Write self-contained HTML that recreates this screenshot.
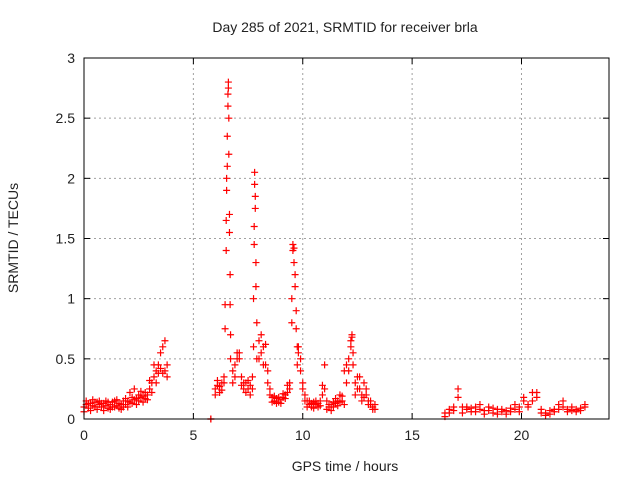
<!DOCTYPE html>
<html><head><meta charset="utf-8"><style>
body{margin:0;background:#fff;width:640px;height:480px;overflow:hidden}
svg text{font-family:"Liberation Sans",sans-serif;font-size:14px;fill:#222}
</style></head><body>
<svg id="chart" width="640" height="480">
<text x="345" y="32" text-anchor="middle">Day 285 of 2021, SRMTID for receiver brla</text>
<text x="345" y="471" text-anchor="middle">GPS time / hours</text>
<text x="0" y="0" transform="translate(18,238) rotate(-90)" text-anchor="middle">SRMTID / TECUs</text>
<g id="grid"></g>
<g id="ticks"></g>
<g id="marks"></g>
<rect x="84" y="58" width="525" height="361" fill="none" stroke="#000" stroke-width="1"/>
</svg>
<script>
const xTicks=[0,5,10,15,20];
const yTicks=[0,0.5,1,1.5,2,2.5,3];
const yTickLabels=["0","0.5","1","1.5","2","2.5","3"];
const times=[0.0,0.1,0.2,0.3,0.4,0.5,0.6,0.7,0.8,0.9,1.0,1.1,1.2,1.3,1.4,1.5,1.6,1.7,1.8,1.9,2.0,2.1,2.2,2.3,2.4,2.5,2.6,2.7,2.8,2.9,3.0,3.1,3.2,3.3,3.4,3.5,3.6,3.7,3.8,
5.8,
6.0,6.1,6.2,6.3,6.4,
6.45,6.5,6.52,6.55,6.58,6.6,6.62,6.65,6.68,6.7,
6.8,6.9,7.0,7.1,7.2,7.3,
7.4,7.5,7.6,7.7,
7.75,7.78,7.8,7.83,7.86,7.9,
8.0,8.1,8.2,8.3,8.4,8.5,
8.6,8.7,8.8,8.9,9.0,9.1,9.2,9.3,9.4,
9.5,9.55,9.6,9.65,9.7,9.75,
9.8,9.9,10.0,10.1,
10.2,10.3,10.4,10.5,10.6,10.7,10.8,10.9,11.0,
11.1,11.2,11.3,11.4,11.5,11.6,11.7,11.8,11.9,12.0,
12.1,12.2,12.25,12.3,
12.4,12.5,12.6,12.7,12.8,12.9,13.0,13.1,13.2,13.3,
16.5,16.7,16.9,17.1,17.3,17.5,17.7,17.9,18.1,18.3,18.5,18.7,18.9,19.1,19.3,19.5,19.7,19.9,20.1,20.3,20.5,20.7,20.9,21.1,21.3,21.5,21.7,21.9,22.1,22.3,22.5,22.7,22.9];
const seriesA=[.10,.12,.09,.13,.11,.10,.14,.12,.10,.13,.11,.09,.12,.14,.10,.11,.13,.12,.10,.12,.15,.14,.18,.16,.17,.20,.18,.19,.17,.20,.25,.30,.35,.40,.45,.42,.38,.40,.45,
0,
.25,.28,.22,.30,.35,
.75,1.4,1.9,2.1,2.6,2.8,2.5,1.7,1.2,.7,
.30,.45,.55,.50,.35,.30,
.30,.25,.28,.35,
1.0,1.6,2.05,1.75,1.3,.8,
.65,.55,.60,.45,.30,.20,
.18,.15,.17,.14,.16,.18,.20,.22,.30,
1.0,1.45,1.3,1.1,.9,.6,
.60,.50,.30,.20,
.15,.12,.10,.14,.12,.10,.15,.20,.25,
.15,.10,.12,.10,.13,.15,.20,.15,.12,.30,
.50,.65,.70,.55,
.30,.35,.25,.20,.30,.25,.15,.12,.10,.08,
.02,.05,.07,.25,.10,.08,.06,.10,.08,.07,.10,.05,.08,.06,.04,.06,.08,.10,.15,.12,.22,.18,.08,.05,.04,.06,.12,.15,.08,.07,.08,.09,.10];
const seriesB=[.06,.15,.13,.07,.16,.14,.08,.15,.13,.07,.15,.14,.08,.10,.15,.16,.09,.08,.15,.17,.10,.22,.13,.25,.12,.15,.23,.14,.22,.16,.32,.22,.45,.30,.38,.55,.60,.65,.35,
0,
.20,.32,.27,.24,.30,
.95,1.65,2.0,2.35,2.7,2.75,2.2,1.55,.95,.5,
.40,.35,.50,.55,.28,.25,
.22,.32,.20,.25,
.6,1.45,1.95,1.85,1.1,.5,
.50,.70,.45,.62,.40,.25,
.14,.19,.13,.18,.13,.21,.17,.28,.25,
.8,1.4,1.42,1.2,.75,.45,
.55,.40,.25,.15,
.10,.15,.13,.09,.15,.13,.11,.28,.45,
.08,.12,.07,.14,.17,.11,.14,.19,.40,.45,
.40,.60,.68,.45,
.20,.25,.35,.15,.18,.20,.12,.15,.08,.12,
.05,.08,.10,.18,.05,.10,.09,.06,.12,.04,.07,.09,.04,.08,.07,.09,.12,.06,.18,.10,.15,.22,.05,.03,.07,.08,.08,.10,.06,.10,.06,.07,.12];
const NS="http://www.w3.org/2000/svg";
const X0=84,X1=609,Y0=419,Y1=58,XMAX=24,YMAX=3;
const xs=v=>X0+(X1-X0)*v/XMAX, ys=v=>Y0-(Y0-Y1)*v/YMAX;
function mk(t,a,p){const e=document.createElementNS(NS,t);for(const k in a)e.setAttribute(k,a[k]);p.appendChild(e);return e;}
const grid=document.getElementById('grid'),ticks=document.getElementById('ticks'),marks=document.getElementById('marks');
xTicks.forEach(v=>{const x=xs(v);
 if(v>0){const g=mk('line',{x1:x,x2:x,y1:Y1,y2:Y0,stroke:'#a0a0a0','stroke-dasharray':'2,3'},grid);
 
 }
 mk('line',{x1:x,x2:x,y1:Y0,y2:Y0-6,stroke:'#000'},ticks);
 mk('line',{x1:x,x2:x,y1:Y1,y2:Y1+6,stroke:'#000'},ticks);
 const t=mk('text',{x:x,y:Y0+21,'text-anchor':'middle'},ticks);t.textContent=v;
 
 
});
yTicks.forEach((v,i)=>{const y=ys(v);
 if(v>0&&v<YMAX){const g=mk('line',{x1:X0,x2:X1,y1:y,y2:y,stroke:'#a0a0a0','stroke-dasharray':'2,3'},grid);
 
 }
 mk('line',{x1:X0,x2:X0+6,y1:y,y2:y,stroke:'#000'},ticks);
 mk('line',{x1:X1,x2:X1-6,y1:y,y2:y,stroke:'#000'},ticks);
 const t=mk('text',{x:X0-9,y:y+5,'text-anchor':'end'},ticks);t.textContent=yTickLabels[i];
 
 
});
function plus(t,v){const x=xs(t),y=ys(v);
 const p=mk('path',{d:`M${x-3.5},${y}H${x+3.5}M${x},${y-3.5}V${y+3.5}`,stroke:'#ff0000','stroke-width':1.2,fill:'none'},marks);
 
 }
const n=Math.min(times.length,seriesA.length,seriesB.length);
for(let i=0;i<n;i++){plus(times[i],seriesA[i]);plus(times[i],seriesB[i]);}
</script>
</body></html>
